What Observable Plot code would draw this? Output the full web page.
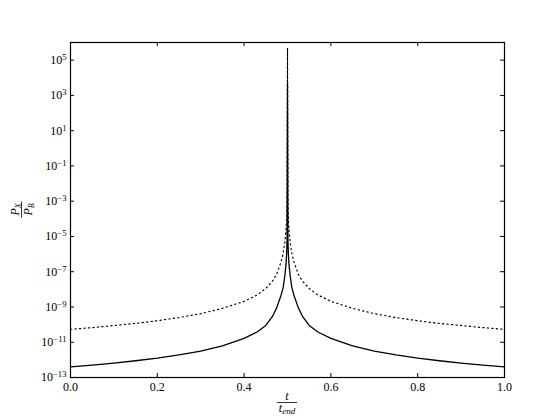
<!DOCTYPE html>
<html><head><meta charset="utf-8">
<script src="https://cdn.jsdelivr.net/npm/d3@7"></script>
<script src="https://cdn.jsdelivr.net/npm/@observablehq/plot@0.6"></script>
<style>body{margin:0;background:#fff;} svg{display:block;}</style>
</head><body><div id="chart"></div>
<script>
// t / t_end sample positions
const tValues = [0, 0.05, 0.1, 0.15, 0.2, 0.25, 0.3, 0.35, 0.4, 0.43, 0.45, 0.465, 0.475, 0.485, 0.49, 0.494, 0.4965, 0.498, 0.499,
  0.5,
  0.501, 0.502, 0.5035, 0.506, 0.51, 0.515, 0.525, 0.535, 0.55, 0.57, 0.6, 0.65, 0.7, 0.75, 0.8, 0.85, 0.9, 0.95, 1.0];
// solid curve P_X / P_B
const solidValues = [3.98e-13, 5.01e-13, 6.61e-13, 8.91e-13, 1.26e-12, 1.91e-12, 3.16e-12, 6.31e-12, 1.66e-11, 3.80e-11, 8.91e-11, 2.82e-10, 8.91e-10, 4.47e-9, 1.26e-8, 6.31e-8, 2.51e-7, 1.0e-6, 6.31e-6,
  4.79e3,
  6.31e-6, 1.0e-6, 2.51e-7, 6.31e-8, 1.26e-8, 4.47e-9, 8.91e-10, 2.82e-10, 8.91e-11, 3.80e-11, 1.66e-11, 6.31e-12, 3.16e-12, 1.91e-12, 1.26e-12, 8.91e-13, 6.61e-13, 5.01e-13, 3.98e-13];
// dotted curve P_X / P_B
const dottedValues = [5.37e-11, 6.76e-11, 8.91e-11, 1.17e-10, 1.66e-10, 2.51e-10, 4.17e-10, 8.32e-10, 2.09e-9, 4.79e-9, 1.12e-8, 2.82e-8, 7.08e-8, 3.55e-7, 1.12e-6, 5.01e-6, 2.24e-5, 1.0e-4, 7.94e-4,
  5.01e5,
  7.94e-4, 1.0e-4, 2.24e-5, 5.01e-6, 1.12e-6, 3.55e-7, 7.08e-8, 2.82e-8, 1.12e-8, 4.79e-9, 2.09e-9, 8.32e-10, 4.17e-10, 2.51e-10, 1.66e-10, 1.17e-10, 8.91e-11, 6.76e-11, 5.37e-11];

const xTicks = [0, 0.2, 0.4, 0.6, 0.8, 1.0];
const xTickLabels = ["0.0", "0.2", "0.4", "0.6", "0.8", "1.0"];
const yTicks = [1e-13, 1e-11, 1e-9, 1e-7, 1e-5, 1e-3, 1e-1, 1e1, 1e3, 1e5];
const yExponents = ["−13", "−11", "−9", "−7", "−5", "−3", "−1", "1", "3", "5"];

const solid = tValues.map((t, i) => ({t, v: solidValues[i]}));
const dotted = tValues.map((t, i) => ({t, v: dottedValues[i]}));

const W = 560, H = 420, mL = 70, mR = 56, mT = 42, mB = 43;
const fw = W - mL - mR, fh = H - mT - mB;
const serif = "'Liberation Serif', 'DejaVu Serif', serif";

const plot = Plot.plot({
  width: W, height: H,
  marginLeft: mL, marginRight: mR, marginTop: mT, marginBottom: mB,
  style: {fontFamily: serif, fontSize: "12px", background: "white", color: "black"},
  x: {domain: [0, 1]},
  y: {type: "log", domain: [1e-13, 1e6]},
  marks: [
    Plot.line(dotted, {x: "t", y: "v", stroke: "black", strokeWidth: 1.2, strokeDasharray: "1.2,3.3"}),
    Plot.line(solid, {x: "t", y: "v", stroke: "black", strokeWidth: 1.3}),
    Plot.tickX(xTicks, {x: d => d, insetTop: fh - 4, stroke: "black"}),
    Plot.tickX(xTicks, {x: d => d, insetBottom: fh - 4, stroke: "black"}),
    Plot.tickY(yTicks, {y: d => d, insetRight: fw - 4, stroke: "black"}),
    Plot.tickY(yTicks, {y: d => d, insetLeft: fw - 4, stroke: "black"}),
    Plot.frame({stroke: "black", strokeWidth: 1.2}),
    Plot.axisX(xTicks, {tickSize: 0, tickPadding: 5, tickFormat: d => xTickLabels[xTicks.indexOf(d)], label: null}),
    Plot.axisY(yTicks, {tickSize: 0, tickPadding: 4, tickFormat: d => "10|" + yExponents[yTicks.indexOf(d)], label: null})
  ]
});
document.getElementById("chart").appendChild(plot);

const svg = d3.select(plot);
// superscript exponents on y tick labels
svg.selectAll('g[aria-label="y-axis tick label"] text').each(function() {
  const parts = this.textContent.split("|");
  const sel = d3.select(this);
  sel.text(null);
  sel.append("tspan").text(parts[0]);
  sel.append("tspan").attr("dy", "-0.45em").attr("font-size", "0.72em").text(parts[1]);
});

const xs = plot.scale("x"), ys = plot.scale("y");
const cx = xs.apply(0.5);
// x label: t / t_end
const gx = svg.append("g").attr("font-family", serif).attr("font-style", "italic").attr("font-size", 12).attr("text-anchor", "middle");
gx.append("text").attr("x", cx).attr("y", 400).text("t");
gx.append("line").attr("x1", cx - 10).attr("x2", cx + 10).attr("y1", 402.5).attr("y2", 402.5).attr("stroke", "black").attr("stroke-width", 0.8);
const den = gx.append("text").attr("x", cx).attr("y", 412);
den.append("tspan").text("t");
den.append("tspan").attr("dy", 2).attr("font-size", 9).text("end");

// y label: P_X / P_B (rotated)
const cy = (ys.apply(1e-13) + ys.apply(1e6)) / 2;
const gy = svg.append("g").attr("transform", `translate(21.5,${cy}) rotate(-90)`)
  .attr("font-family", serif).attr("font-style", "italic").attr("font-size", 12).attr("text-anchor", "middle");
const num = gy.append("text").attr("x", 0).attr("y", -2.5);
num.append("tspan").text("P");
num.append("tspan").attr("dy", 2).attr("font-size", 8).text("X");
gy.append("line").attr("x1", -8).attr("x2", 8).attr("y1", 0).attr("y2", 0).attr("stroke", "black").attr("stroke-width", 0.8);
const den2 = gy.append("text").attr("x", 0).attr("y", 10);
den2.append("tspan").text("P");
den2.append("tspan").attr("dy", 2).attr("font-size", 8).text("B");
</script>
</body></html>
